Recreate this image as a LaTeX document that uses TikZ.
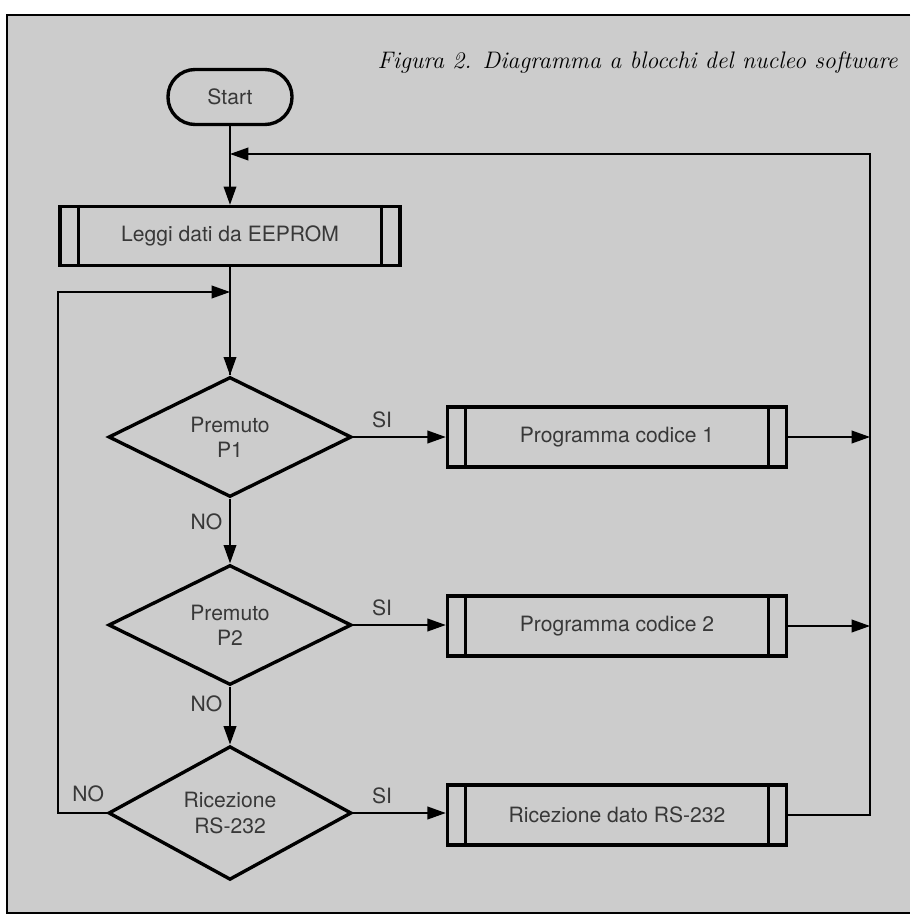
\documentclass[tikz,border=0pt]{standalone}
\usepackage{fontspec}
\setsansfont{TeX Gyre Heros}
\usetikzlibrary{positioning,calc,arrows.meta,shapes.geometric}
\definecolor{paper}{gray}{0.80}
\definecolor{ink}{gray}{0.22}
\newcommand*{\txt}{\fontsize{15}{18}\selectfont\sffamily}

\begin{document}
\begin{tikzpicture}[x=0.025cm,y=-0.025cm,
  shape line/.style={draw,line width=2.4pt},
  term/.style={shape line,rounded corners=0.68cm,minimum width=3.1cm,
               minimum height=1.375cm,text=ink,font=\txt},
  subproc/.style={shape line,minimum width=8.475cm,minimum height=1.5cm,
                  inner sep=0pt,text=ink,font=\txt},
  test/.style={shape line,diamond,minimum width=6.075cm,minimum height=3cm,
               inner sep=0pt,align=center,text=ink,font=\txt},
  conn/.style={line width=1.1pt,-{Triangle[length=13pt,width=9pt]}},
  wire/.style={line width=1.1pt},
  lab/.style={text=ink,font=\txt,inner sep=0pt}]
\useasboundingbox (0,0) rectangle (910,918);
% Paper and frame
\fill[paper] (7,15) rectangle (910,913);
\draw[line width=2pt] (910,15) -- (7,15) -- (7,913) -- (910,913);
\node[anchor=east,inner sep=0pt,font=\fontsize{17}{20}\selectfont\itshape]
  (title) at (898,63) {Figura 2. Diagramma a blocchi del nucleo software};
% Blocks of the left column
\node[term] (start) at (230,97) {Start};
\node[subproc,minimum width=8.5cm,minimum height=1.475cm] (leggi) at (230,236) {Leggi dati da EEPROM};
\node[test] (d1) at (230,437) {Premuto\\P1};
\node[test] (d2) at (230,625) {Premuto\\P2};
\node[test] (d3) at (230,813) {Ricezione\\RS-232};
% Blocks of the right column
\node[subproc] (prog1) at (617,437) {Programma codice 1};
\node[subproc] (prog2) at (617,626) {Programma codice 2};
\node[subproc] (ricez) at (617,815) {Ricezione dato RS-232};
% Side bars of the subroutine boxes
\foreach \b in {leggi,prog1,prog2,ricez}
  \draw[line width=2.4pt] ([xshift=0.5cm]\b.north west) -- ([xshift=0.5cm]\b.south west)
                          ([xshift=-0.5cm]\b.north east) -- ([xshift=-0.5cm]\b.south east);
% Rails for the loops
\coordinate (rtop) at (870,154);
\coordinate (ltop) at (58,292);
% Main flow
\draw[conn] (start) -- (leggi);
\draw[wire] (leggi) -- (d1);
\draw[conn] (ltop -| leggi.south) -- (d1);
\draw[conn] (d1) -- node[lab,left=5pt,pos=0.35] (no1) {NO} (d2);
\draw[conn] (d2) -- node[lab,left=5pt,pos=0.3] (no2) {NO} (d3);
% Branches on SI
\draw[conn] (d1.east) -- node[lab,above left=6pt and 8pt,pos=0.55] (si1) {SI} (prog1.west |- d1.east);
\draw[conn] (d2.east) -- node[lab,above left=6pt and 8pt,pos=0.55] (si2) {SI} (prog2.west |- d2.east);
\draw[conn] (d3.east) -- node[lab,above left=6pt and 8pt,pos=0.55] (si3) {SI} (ricez.west |- d3.east);
\draw[conn] (prog1.east) -- (prog1.east -| rtop);
\draw[conn] (prog2.east) -- (prog2.east -| rtop);
\draw[conn] (ricez.east) -| (rtop) -- (rtop -| start.south);
% Back loop on NO
\draw[conn] (d3.west) -| (ltop) -- (ltop -| leggi.south);
\node[lab,above right=8pt and 10pt] (no3) at (ltop |- d3.west) {NO};
\end{tikzpicture}
\end{document}
